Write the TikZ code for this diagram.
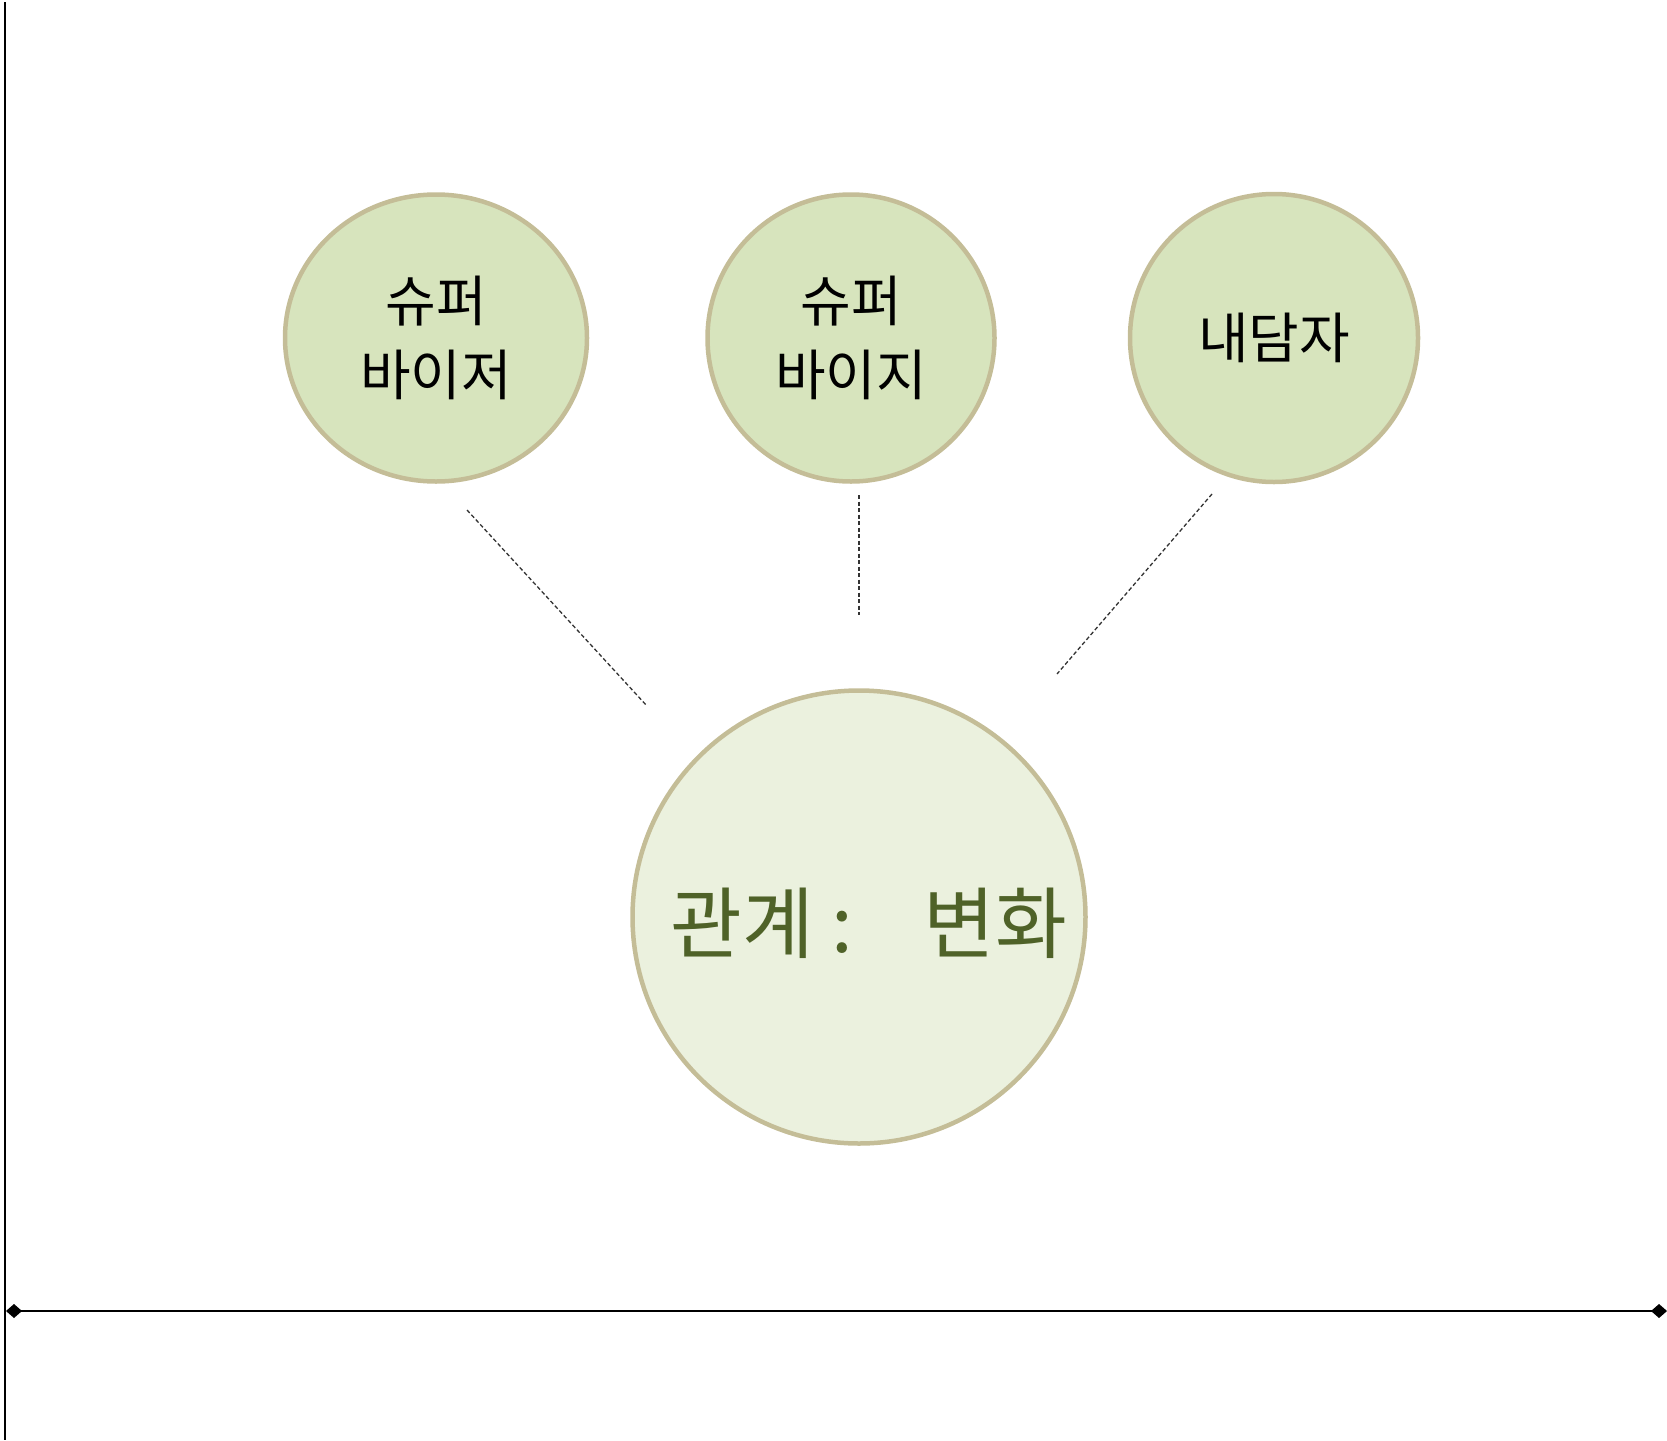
\documentclass[tikz,border=0pt]{standalone}
\usepackage{fontspec}
\newfontfamily\krfont{Noto Sans CJK KR}
\usetikzlibrary{shapes.geometric,arrows.meta}
\definecolor{smallfill}{HTML}{D7E4BD}
\definecolor{bigfill}{HTML}{EBF1DE}
\definecolor{rim}{HTML}{C4BD97}
\definecolor{olive}{HTML}{4F6228}
\tikzset{
  bubble/.style={ellipse,draw=rim,line width=4.5pt,fill=smallfill,inner sep=0pt,
    align=center,font=\krfont\fontsize{55}{74}\selectfont,text=black},
  bigbubble/.style={circle,draw=rim,line width=4.5pt,fill=bigfill,inner sep=0pt},
  bigtext/.style={text=olive,font=\krfont\fontsize{78}{90}\selectfont},
  link/.style={draw=black!80,line width=1.3pt,dash pattern=on 4pt off 2.5pt},
  axis/.style={draw=black,line width=1.6pt}
}
\begin{document}
\begin{tikzpicture}[x=1pt,y=-1pt]
\useasboundingbox (0,0) rectangle (1667,1440);
\node[bubble,minimum width=302pt,minimum height=287pt] (sv1) at (436,338) {슈퍼\\바이저};
\node[bubble,minimum width=287pt,minimum height=287pt] (sv2) at (851,338) {슈퍼\\바이지};
\node[bubble,minimum width=288pt,minimum height=288pt] (cl) at (1274,338) {내담자};
\node[bigbubble,minimum size=453pt,label={[bigtext,xshift=10pt,yshift=-6pt]center:관계 :~~~~변화}] (rel) at (859,917) {};
\coordinate (a1) at (467,510); \coordinate (a2) at (647,706);
\coordinate (b1) at (859,495); \coordinate (b2) at (859,615);
\coordinate (c1) at (1212,494); \coordinate (c2) at (1057,674);
\draw[link] (a1) -- (a2);
\draw[link] (b1) -- (b2);
\draw[link] (c1) -- (c2);
\coordinate (vt) at (5,2); \coordinate (vb) at (5,1440);
\draw[axis] (vt) -- (vb);
\coordinate (hl) at (6,1311); \coordinate (hr) at (1667,1311);
\draw[axis,{Diamond[length=16pt,width=14pt]}-{Diamond[length=16pt,width=14pt]}] (hl) -- (hr);
\end{tikzpicture}
\end{document}
